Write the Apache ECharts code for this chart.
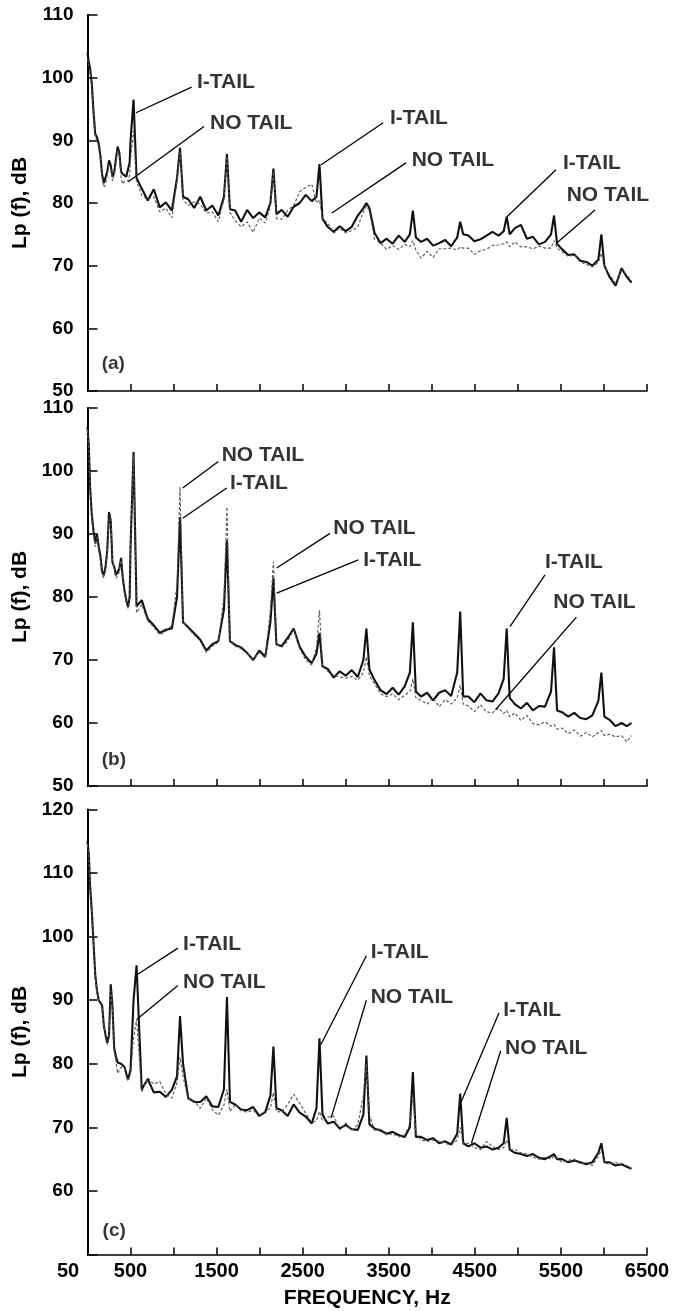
<!DOCTYPE html>
<html><head><meta charset="utf-8">
<script src="https://cdn.jsdelivr.net/npm/echarts@6/dist/echarts.min.js"></script>
<style>html,body{margin:0;padding:0;background:#fff}#c{width:682px;height:1311px}</style>
</head><body><div id="c"></div>
<script>
// Frequency grid (Hz) shared by the three panels
const freq = [0,15,30,50,70,90,110,130,150,170,190,210,230,250,270,290,310,330,350,370,390,410,430,450,470,490,
500,535,570,630,700,770,840,910,980,
1040,1075,1110,1170,1240,1310,1380,1450,1520,
1585,1620,1655,1715,1785,1855,1925,1995,2065,
2125,2160,2195,2255,2325,2395,2465,2535,2605,
2660,2695,2730,2790,2860,2930,3000,3070,3140,
3205,3240,3275,3335,3405,3475,3545,3615,3685,
3745,3780,3815,3875,3945,4015,4085,4155,4225,
4295,4330,4365,4425,4495,4565,4635,4705,4775,
4835,4870,4905,4965,5035,5105,5175,5245,5315,
5385,5420,5455,5515,5585,5655,5725,5795,5865,
5935,5970,6005,6065,6135,6205,6265,6320];

// Panel (a)
const iTailA = [104,102.5,101.5,99,94.5,91,90.5,89.5,87.5,84.5,83.2,83.5,85,86.8,86,84.2,84.8,87,89,88,85,84.6,84.3,84.2,84.5,86.5,
90,96.5,84,82.3,80.4,82.2,79.3,80.1,78.8,
84,88.8,81,80.6,79.2,81,78.8,79.6,78,
81,87.8,79,78.8,77,78.9,77.6,78.5,77.7,
80,85.5,78.2,78.9,77.8,79.4,80,81.3,80.3,
81,86.2,77.5,76.2,75.4,76.3,75.5,76.2,78,
79.2,80,79.2,75.2,73.6,74.3,73.5,74.8,73.8,
75,78.8,74.5,73.8,74.3,73.2,73.6,74.1,73.1,
74.5,77,75,74.8,73.9,74.2,74.8,75.4,74.8,
75.5,77.8,75,76,76.5,74.3,74.6,73.4,73.8,
75,78,73.5,72.6,71.7,71.8,70.8,70.6,70,
71,75,70,68.2,66.8,69.6,68.2,67.3];
const noTailA = [103,102,101,98.5,94,90.5,90,89,87,84,82.5,83,84.5,86.3,85.5,83.5,84.5,86.5,88.5,87.5,84,83,83.5,83.2,83.5,84.5,
87,91.5,83.5,81.2,80.6,81,78.6,79.2,77.6,
83.5,88.3,80.5,79.6,80.2,79.8,78.4,78.6,77,
80.5,87.5,78.5,77.2,76.2,77,75.3,77.6,76.8,
79.5,85,77.5,77.4,78.8,79.6,81.8,82.5,83,
80,80.5,77.5,76.8,75.2,76,75.2,75.6,76.2,
78.6,79.5,78.8,74.2,73.6,72.6,73.2,72.6,73.4,
73,74,72.5,71.2,72.3,71.3,72.7,72.7,72.8,
72.5,73,72.8,72.8,71.8,72.4,72.6,73.2,73.3,
73.5,73.8,73,73.8,73,73,72.7,73.1,72.8,
72.8,74,72.8,72.2,71.5,71.7,70.6,70.2,69.8,
70.5,72,69.8,68.6,67.2,69.2,68.6,67.5];

// Panel (b)
const iTailB = [107,104,97.5,93,90.5,88.5,90,88,86.5,84,83.5,84.8,87.5,93.5,92,85.5,84.8,83.5,83.2,84.5,86.2,83,81,79.5,78.4,80,
88,103,78.5,79.5,76.5,75.5,74.3,74.8,75,
80,92.7,76,75.2,74.2,73.2,71.5,72.5,73,
78,89,73,72.4,72,71.1,70,71.5,70.5,
76,83,72.5,72.2,73.5,75,72.1,70.5,69.5,
71,74.3,69,68.6,67.2,68.2,67.5,68.4,67.3,
70,75,68.5,66.8,65.2,64.6,65.6,64.5,65.8,
68,76,65,64.2,64.8,63.6,64.8,65.2,64.3,
68,77.7,64.2,64.2,63.3,64.7,63.6,63.4,64.7,
67,75,64,63,62.3,63.2,62,62.7,62.6,
65,72,62,61.7,61,61.6,60.8,60.6,61.2,
63.5,68,61,60.5,59.5,60,59.5,60];
const noTailB = [106.5,103.5,97,92.5,90,88,89.5,87.5,86,83.5,83,84.5,87,92.5,93,86,84.5,83,82.8,84,85.8,82.7,80.5,79.2,78.2,79.5,
88,102.5,77.5,78.8,76.2,75.2,74,74.5,75.5,
82,97.5,76,75,74,73,71.2,72.2,72.8,
80,94.3,73,72.2,71.8,71,70.2,71.2,70.3,
78,85.6,72.5,72,73,74.8,71.8,70,69.2,
72,77.9,69,68.2,67.6,67.3,67.1,67.4,66.8,
68,70.5,67.5,66.2,64.6,64.2,64.6,63.7,64.4,
65,67,64,63.6,63,64,62.6,63.7,63,
64,66,63,62.7,61.8,62.9,61.8,61.6,62.4,
61.5,62,61,61.6,60.4,61.2,59.9,59.7,60.2,
59.5,59.8,59,59.2,58.3,58.9,57.9,58.5,57.8,
58.5,58.8,58,58.2,57.8,58,57,58];

// Panel (c)
const iTailC = [115,113,108,104,99,94,91.5,90,89.7,89.2,86,84.5,83.3,84.5,92.5,89,82.5,81.2,80.2,80,80,79.8,79.5,78.5,77.5,77.4,
79,90,95.5,76,77.6,75.5,75.6,74.8,75.9,
78,87.5,80,74.6,74,74,74.9,73.3,73.2,
76,90.5,74,73.6,72.8,72.7,73.2,71.8,72.4,
75,82.7,73,72.7,71.8,73.6,72.3,71.7,70.6,
73,84,72,70.6,70.9,69.8,70.4,69.7,69.6,
72,81.3,70.5,69.8,69.5,69,69.3,68.8,68.5,
70,78.7,68.5,68.5,68,68.3,67.5,67.8,67.3,
69,75.3,67.5,67,67.5,66.8,67,66.5,66.8,
67.5,71.5,66.5,66,65.8,65.5,65.8,65.2,65,
65.5,65.8,65,65,64.5,64.8,64.5,64.2,64.5,
66,67.5,64.5,64.5,64,64.2,63.8,63.5];
const noTailC = [114.5,112.5,107.5,103.5,98.5,93.5,91.2,89.8,89.5,89,86,84.2,83,84,91.5,88.5,82,80.5,78.5,79,79.5,79.5,79.2,78.2,77.3,77.3,
78.5,84,87,75.5,77.8,76.8,77.2,75.3,74.6,
77,81,78,74.4,74.2,73,74.6,72.8,71.9,
73.5,76,72.5,73.6,72.6,72.4,72.7,71.6,72.6,
73,75.5,72.5,72.4,73.6,75.2,73.8,72.2,70.8,
71,72.5,71,71.6,71.8,69.6,70.7,69.6,70.4,
75,80,72,69.5,69.8,68.8,69,68.5,68.8,
70.5,75,69,68,67.8,68,67.8,67.5,67.2,
68,70,67.5,67.5,66.8,66.5,67.8,67,66.5,
66.8,68,66.5,66.5,66,65.8,65.3,65,65.3,
65,65.5,65.2,64.5,64.8,65,64.2,64.5,64,
65.5,66.5,64.5,64.2,64.5,64,64,63.5];

// Bottom axis tick labels (value -> text)
const xLabelValues = [0,500,1500,2500,3500,4500,5500,6500];
const xLabelTexts = ['50','500','1500','2500','3500','4500','5500','6500'];

// Annotations: text, leader start (on curve), leader end, text anchor (left edge, middle)
const notesA = [
  {text:'I-TAIL', from:[563,94.4], to:[1210,98.5], at:[1272,99.3]},
  {text:'NO TAIL', from:[474,83.4], to:[1353,92.2], at:[1423,92.8]},
  {text:'I-TAIL', from:[2715,86.1], to:[3435,92.8], at:[3514,93.6]},
  {text:'NO TAIL', from:[2839,78.4], to:[3700,86.4], at:[3766,86.8]},
  {text:'I-TAIL', from:[4873,77.8], to:[5443,85.3], at:[5524,86.3]},
  {text:'NO TAIL', from:[5451,73.6], to:[5896,78.9], at:[5567,81.3]}
];
const notesB = [
  {text:'NO TAIL', from:[1106,97.3], to:[1520,101.5], at:[1559,102.5]},
  {text:'I-TAIL', from:[1106,92.5], to:[1617,97.3], at:[1655,98]},
  {text:'NO TAIL', from:[2198,84.6], to:[2817,90.1], at:[2855,90.9]},
  {text:'I-TAIL', from:[2198,80.6], to:[3146,85.9], at:[3204,85.9]},
  {text:'I-TAIL', from:[4908,75.3], to:[5315,83.5], at:[5315,85.6]},
  {text:'NO TAIL', from:[4740,62.1], to:[5680,76.8], at:[5411,79.1]}
];
const notesC = [
  {text:'I-TAIL', from:[575,94], to:[1050,98.2], at:[1110,98.8]},
  {text:'NO TAIL', from:[575,87], to:[1050,92.3], at:[1110,92.8]},
  {text:'I-TAIL', from:[2710,83], to:[3240,97], at:[3290,97.5]},
  {text:'NO TAIL', from:[2830,71.5], to:[3240,90], at:[3290,90.5]},
  {text:'I-TAIL', from:[4340,74], to:[4780,88], at:[4830,88.5]},
  {text:'NO TAIL', from:[4460,67.5], to:[4800,82], at:[4850,82.5]}
];
const letters = [
  {text:'(a)', at:[165,54.4]},
  {text:'(b)', at:[165,54.1]},
  {text:'(c)', at:[175,53.8]}
];

const FONT = '"Liberation Sans", Arial, Helvetica, sans-serif';
const panels = [
  {it:iTailA, nt:noTailA, notes:notesA, ymin:50, ymax:110, top:15, height:376, hide:null},
  {it:iTailB, nt:noTailB, notes:notesB, ymin:50, ymax:110, top:408, height:378, hide:null},
  {it:iTailC, nt:noTailC, notes:notesC, ymin:50, ymax:120, top:809.5, height:445, hide:50}
];

const grid = [], xAxis = [], yAxis = [], series = [];
panels.forEach((p, k) => {
  grid.push({left:87.5, right:35, top:p.top, height:p.height, containLabel:false});
  const last = k === panels.length - 1;
  xAxis.push({
    type:'value', gridIndex:k, min:0, max:6500, interval:500,
    axisLine:{show:true, onZero:false, lineStyle:{color:'#000', width:1.6}},
    axisTick:{show:true, inside:true, length:7, lineStyle:{color:'#000', width:1.5}},
    splitLine:{show:false},
    axisLabel:{show:last, interval:0, margin:7, color:'#000', fontFamily:FONT, fontWeight:'bold', fontSize:20,
      formatter:(v)=>{const i = xLabelValues.indexOf(v); if (i < 0) return ''; return v === 0 ? '{o|' + xLabelTexts[i] + '}' : xLabelTexts[i];},
      rich:{o:{padding:[0,39,0,0], fontFamily:FONT, fontWeight:'bold', fontSize:20, color:'#000'}}},
    name: last ? 'FREQUENCY, Hz' : '', nameLocation:'middle', nameGap:33,
    nameTextStyle:{color:'#000', fontFamily:FONT, fontWeight:'bold', fontSize:21}
  });
  yAxis.push({
    type:'value', gridIndex:k, min:p.ymin, max:p.ymax, interval:10,
    axisLine:{show:true, onZero:false, lineStyle:{color:'#000', width:2}},
    axisTick:{show:true, inside:true, length:10, lineStyle:{color:'#000', width:1.5}},
    splitLine:{show:false},
    axisLabel:{margin:14, color:'#000', fontFamily:FONT, fontWeight:'bold', fontSize:19,
      formatter:(v)=> (p.hide !== null && v === p.hide) ? '' : String(v)},
    name:'Lp (f), dB', nameLocation:'middle', nameGap:53, nameRotate:90,
    nameTextStyle:{color:'#000', fontFamily:FONT, fontWeight:'bold', fontSize:21}
  });
  series.push({
    type:'line', xAxisIndex:k, yAxisIndex:k, showSymbol:false, symbol:'none', z:3,
    data: freq.map((f,i)=>[f, p.it[i]]),
    lineStyle:{color:'#111', width:2.1}
  });
  series.push({
    type:'line', xAxisIndex:k, yAxisIndex:k, showSymbol:false, symbol:'none', z:4,
    data: freq.map((f,i)=>[f, p.nt[i]]),
    lineStyle:{color:'#555', width:1.1, type:[3,2]}
  });
  series.push({
    type:'scatter', xAxisIndex:k, yAxisIndex:k, symbolSize:0, z:5, silent:true,
    data: p.notes.map(n=>({value:n.at, label:{formatter:n.text}})).concat([{value:letters[k].at, label:{formatter:letters[k].text, fontSize:19}}]),
    label:{show:true, position:'right', distance:0, color:'#000', fontFamily:FONT, fontWeight:'bold', fontSize:21},
    markLine:{silent:true, symbol:['none','none'], label:{show:false}, animation:false,
      lineStyle:{color:'#000', width:1.3, type:'solid'},
      data: p.notes.map(n=>[{coord:n.from},{coord:n.to}])}
  });
});

const chart = echarts.init(document.getElementById('c'), null, {renderer:'canvas'});
chart.setOption({backgroundColor:'#fff', animation:false, grid, xAxis, yAxis, series});
</script></body></html>
